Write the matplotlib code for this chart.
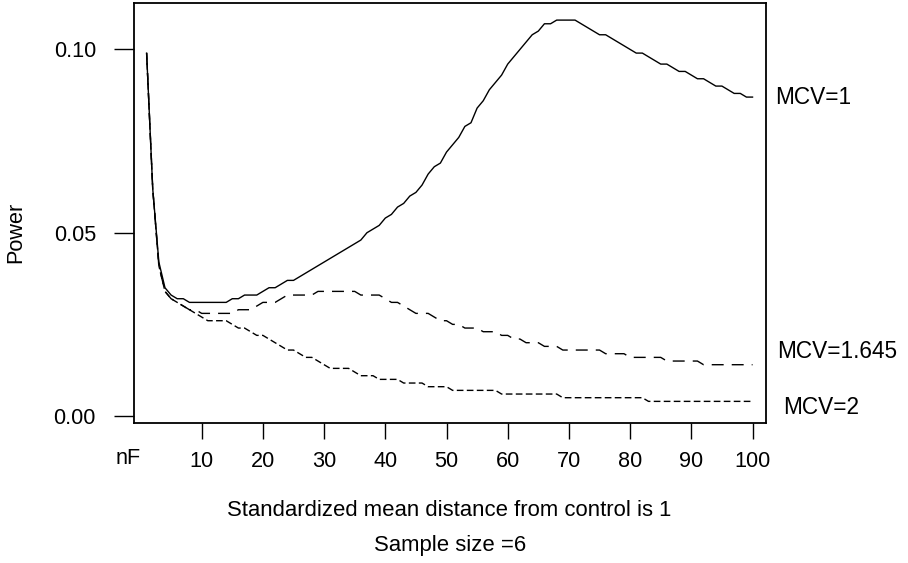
import numpy as np
import matplotlib
matplotlib.use('Agg')
import matplotlib.pyplot as plt

plt.rcParams['font.family'] = ['Liberation Sans', 'DejaVu Sans']

# Power against number of F-tests (nF), one curve per critical value
nF = np.arange(1, 101)

power_mcv1 = [
    0.099, 0.062, 0.042, 0.035, 0.033, 0.032, 0.032, 0.031, 0.031, 0.031,
    0.031, 0.031, 0.031, 0.031, 0.032, 0.032, 0.033, 0.033, 0.033, 0.034,
    0.035, 0.035, 0.036, 0.037, 0.037, 0.038, 0.039, 0.040, 0.041, 0.042,
    0.043, 0.044, 0.045, 0.046, 0.047, 0.048, 0.050, 0.051, 0.052, 0.054,
    0.055, 0.057, 0.058, 0.060, 0.061, 0.063, 0.066, 0.068, 0.069, 0.072,
    0.074, 0.076, 0.079, 0.080, 0.084, 0.086, 0.089, 0.091, 0.093, 0.096,
    0.098, 0.100, 0.102, 0.104, 0.105, 0.107, 0.107, 0.108, 0.108, 0.108,
    0.108, 0.107, 0.106, 0.105, 0.104, 0.104, 0.103, 0.102, 0.101, 0.100,
    0.099, 0.099, 0.098, 0.097, 0.096, 0.096, 0.095, 0.094, 0.094, 0.093,
    0.092, 0.092, 0.091, 0.090, 0.090, 0.089, 0.088, 0.088, 0.087, 0.087]

power_mcv1645 = [
    0.099, 0.062, 0.041, 0.034, 0.032, 0.031, 0.030, 0.029, 0.029, 0.028,
    0.028, 0.028, 0.028, 0.028, 0.028, 0.029, 0.029, 0.029, 0.030, 0.031,
    0.031, 0.031, 0.032, 0.033, 0.033, 0.033, 0.033, 0.033, 0.034, 0.034,
    0.034, 0.034, 0.034, 0.034, 0.034, 0.033, 0.033, 0.033, 0.033, 0.032,
    0.031, 0.031, 0.030, 0.029, 0.028, 0.028, 0.028, 0.027, 0.026, 0.026,
    0.025, 0.025, 0.024, 0.024, 0.024, 0.023, 0.023, 0.023, 0.022, 0.022,
    0.021, 0.021, 0.020, 0.020, 0.020, 0.019, 0.019, 0.019, 0.018, 0.018,
    0.018, 0.018, 0.018, 0.018, 0.018, 0.017, 0.017, 0.017, 0.017, 0.016,
    0.016, 0.016, 0.016, 0.016, 0.016, 0.015, 0.015, 0.015, 0.015, 0.015,
    0.015, 0.014, 0.014, 0.014, 0.014, 0.014, 0.014, 0.014, 0.014, 0.014]

power_mcv2 = [
    0.099, 0.062, 0.041, 0.034, 0.032, 0.031, 0.030, 0.029, 0.028, 0.027,
    0.026, 0.026, 0.026, 0.026, 0.025, 0.024, 0.024, 0.023, 0.022, 0.022,
    0.021, 0.020, 0.019, 0.018, 0.018, 0.017, 0.016, 0.016, 0.015, 0.014,
    0.013, 0.013, 0.013, 0.013, 0.012, 0.011, 0.011, 0.011, 0.010, 0.010,
    0.010, 0.010, 0.009, 0.009, 0.009, 0.009, 0.008, 0.008, 0.008, 0.008,
    0.007, 0.007, 0.007, 0.007, 0.007, 0.007, 0.007, 0.007, 0.006, 0.006,
    0.006, 0.006, 0.006, 0.006, 0.006, 0.006, 0.006, 0.006, 0.005, 0.005,
    0.005, 0.005, 0.005, 0.005, 0.005, 0.005, 0.005, 0.005, 0.005, 0.005,
    0.005, 0.005, 0.004, 0.004, 0.004, 0.004, 0.004, 0.004, 0.004, 0.004,
    0.004, 0.004, 0.004, 0.004, 0.004, 0.004, 0.004, 0.004, 0.004, 0.004]

curve_labels = ['MCV=1', 'MCV=1.645', 'MCV=2']
xticks = [10, 20, 30, 40, 50, 60, 70, 80, 90, 100]
yticks = [0.00, 0.05, 0.10]

W, H = 908, 563
fs = 15.6

fig = plt.figure(figsize=(W / 100, H / 100), dpi=100)
ax = fig.add_axes([134 / W, 1 - 423 / H, (766 - 134) / W, (423 - 2.5) / H])

ax.plot(nF, power_mcv1, color='k', lw=1.0, ls='-')
ax.plot(nF, power_mcv1645, color='k', lw=1.0, ls=(0, (8.6, 5.8)))
ax.plot(nF, power_mcv2, color='k', lw=1.0, ls=(0, (4.8, 2.4)))

ax.set_xlim(-1.06, 102.2)
ax.set_ylim(-0.0019, 0.1128)

ax.set_xticks(xticks)
ax.set_xticklabels([str(t) for t in xticks], fontsize=fs)
ax.set_yticks(yticks)
ax.set_yticklabels(['%.2f' % t for t in yticks], fontsize=fs)
ax.tick_params(axis='y', length=14.4, width=1.0, pad=13)
ax.tick_params(axis='x', length=11.5, width=1.0, pad=9)
for s in ax.spines.values():
    s.set_linewidth(1.3)

# labels placed in pixel positions of the figure
def ftext(x, y, s, size=fs, **kw):
    fig.text(x / W, 1 - y / H, s, fontsize=size, **kw)

ftext(128, 459, 'nF', ha='center', va='center')
ftext(16, 232, 'Power', ha='center', va='center', rotation=90)
ftext(449, 511, 'Standardized mean distance from control is 1', size=15.9, ha='center', va='center')
ftext(450, 545, 'Sample size =6', size=15.9, ha='center', va='center')
ftext(775, 98, curve_labels[0], size=16.3, ha='left', va='center')
ftext(777, 352, curve_labels[1], size=16.3, ha='left', va='center')
ftext(783, 408, curve_labels[2], size=16.3, ha='left', va='center')

fig.savefig('out.png', dpi=100, facecolor='white')
